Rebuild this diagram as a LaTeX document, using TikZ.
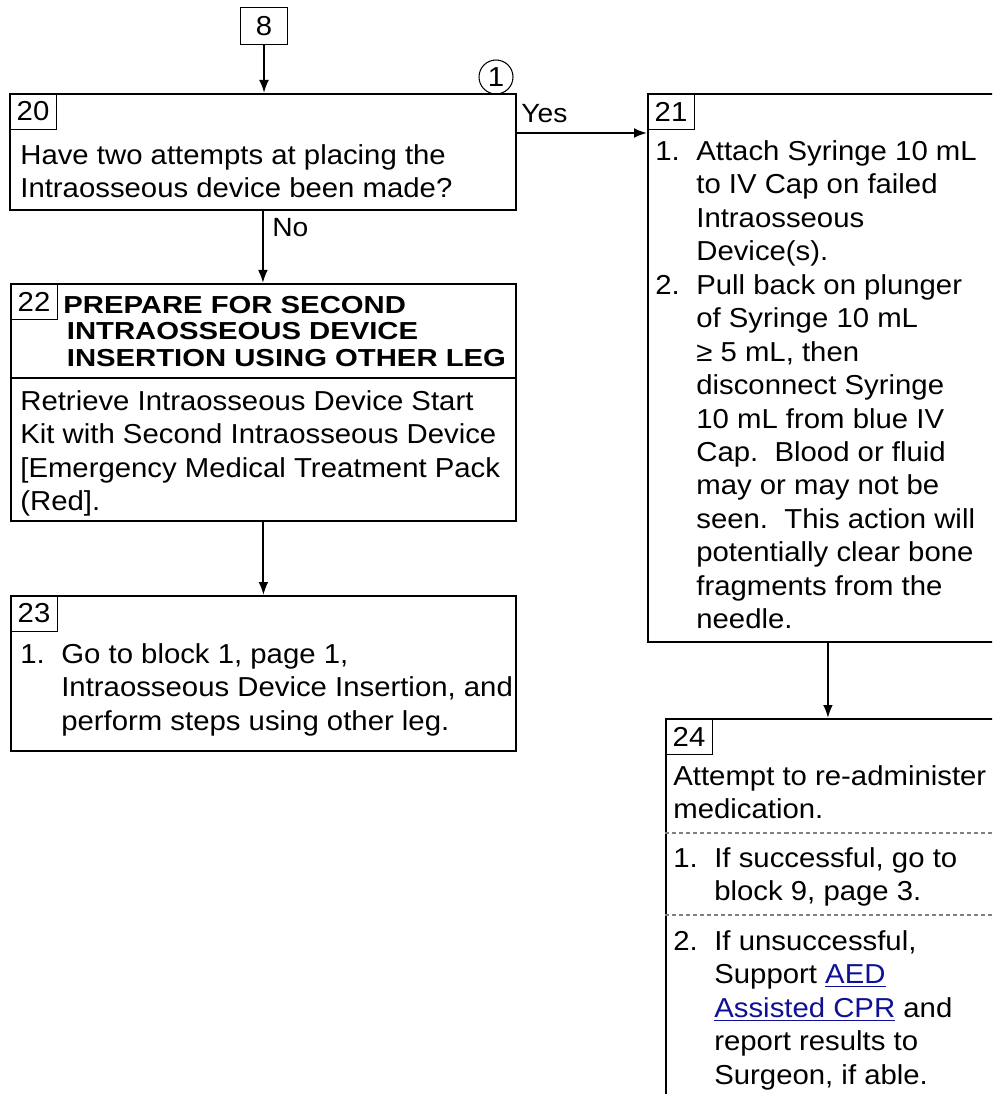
\documentclass[tikz,border=0pt]{standalone}
\usepackage{fontspec}
\setmainfont[FakeStretch=1.07]{Liberation Sans}
\newfontfamily\headfamily[FakeStretch=1.19]{Liberation Sans}
\usetikzlibrary{arrows.meta,calc}

\definecolor{linkblue}{RGB}{16,16,150}
\newcommand{\bodyfont}{\fontsize{15.6}{19.05}\selectfont}
\newcommand{\headfont}{\headfamily\fontsize{14}{15}\selectfont\bfseries}
\newcommand{\tagfont}{\fontsize{15}{17}\selectfont}
\newcommand{\itm}[1]{\makebox[0.82cm][l]{#1}}
\newcommand{\ind}{\hspace*{0.82cm}}
\newcommand{\lnk}[1]{\textcolor{linkblue}{\underline{#1}}}

\tikzset{
  blockbox/.style={draw, line width=1.1pt, anchor=north west, inner sep=0pt},
  numbox/.style={draw, line width=0.6pt, anchor=north west, inner sep=0pt,
    minimum width=0.94cm, minimum height=0.72cm, font=\bodyfont},
  txt/.style={anchor=north west, inner sep=0pt, align=left, font=\bodyfont},
  tag/.style={anchor=base west, inner sep=0pt, font=\tagfont},
  flow/.style={line width=1.1pt, -{Latex[length=7.4pt,width=5.6pt]}},
  divider/.style={gray, line width=0.6pt, dash pattern=on 2.3pt off 1.7pt},
}

\begin{document}
\begin{tikzpicture}[x=0.02cm, y=-0.02cm]
    \useasboundingbox (0,0) rectangle (992,1094);
    \clip (0,0) rectangle (992,1094);

    \node[numbox, minimum height=0.74cm] (b8) at (240,7) {8};

    \node[blockbox, minimum width=10.12cm, minimum height=2.32cm] (b20) at (9,93) {};
    \node[blockbox, minimum width=7.2cm, minimum height=10.96cm] (b21) at (647,93) {};
    \node[blockbox, minimum width=10.1cm, minimum height=4.74cm] (b22) at (10,283) {};
    \node[blockbox, minimum width=10.1cm, minimum height=3.1cm] (b23) at (10,595) {};
    \node[blockbox, minimum width=7.2cm, minimum height=8.4cm] (b24) at (665,718) {};

    \node[numbox] (n20) at (b20.north west) {20};
    \node[numbox] (n21) at (b21.north west) {21};
    \node[numbox] (n22) at (b22.north west) {22};
    \node[numbox] (n23) at (b23.north west) {23};
    \node[numbox] (n24) at (b24.north west) {24};

    \node[draw, circle, line width=0.6pt, minimum size=0.68cm, inner sep=0pt,
      font=\bodyfont] (c1) at (496,77) {1};

    \draw[line width=1.1pt] ($(b22.north west)+(0,95)$) -- ($(b22.north east)+(0,95)$);
    \draw[divider] ($(b24.north west)+(0,115)$) -- ($(b24.north east)+(0,115)$);
    \draw[divider] ($(b24.north west)+(0,197)$) -- ($(b24.north east)+(0,197)$);

    \node[txt] (t20) at (20,140.5) {\strut Have two attempts at placing the\\
      Intraosseous device been made?};
    \node[txt] (t21) at (655,136.5) {\strut\itm{1.}Attach Syringe 10 mL\\
      \ind to IV Cap on failed\\
      \ind Intraosseous\\
      \ind Device(s).\\
      \itm{2.}Pull back on plunger\\
      \ind of Syringe 10 mL\\
      \ind ≥ 5 mL, then\\
      \ind disconnect Syringe\\
      \ind 10 mL from blue IV\\
      \ind Cap.\ \ Blood or fluid\\
      \ind may or may not be\\
      \ind seen.\ \ This action will\\
      \ind potentially clear bone\\
      \ind fragments from the\\
      \ind needle.};
    \node[txt, font=\headfont] (h22) at (63,294.7) {\strut PREPARE FOR SECOND\\
      \hspace*{2pt}INTRAOSSEOUS DEVICE\\
      \hspace*{2pt}INSERTION USING OTHER LEG};
    \node[txt] (t22) at (20,386.5) {\strut Retrieve Intraosseous Device Start\\
      Kit with Second Intraosseous Device\\
      {[}Emergency Medical Treatment Pack\\
      (Red].};
    \node[txt] (t23) at (20,639.5) {\strut\itm{1.}Go to block 1, page 1,\\
      \ind Intraosseous Device Insertion, and\\
      \ind perform steps using other leg.};
    \node[txt] (t24a) at (673,761.5) {\strut Attempt to re-administer\\
      medication.};
    \node[txt] (t24b) at (673,843.5) {\strut\itm{1.}If successful, go to\\
      \ind block 9, page 3.};
    \node[txt] (t24c) at (673,926.5) {\strut\itm{2.}If unsuccessful,\\
      \ind Support \lnk{AED}\\
      \ind \lnk{Assisted CPR} and\\
      \ind report results to\\
      \ind Surgeon, if able.};

    \draw[flow] (b8.south) -- (b8.south |- b20.north);
    \draw[flow] ($(b20.north east)+(0,40)$) -- ($(b21.north west)+(0,40)$);
    \draw[flow] (b20.south) -- (b20.south |- b22.north);
    \draw[flow] (b22.south) -- (b22.south |- b23.north);
    \draw[flow] (b21.south) -- (b21.south |- b24.north);

    \node[tag] (yes) at (521,123) {Yes};
    \node[tag] (no) at (272,237) {No};
\end{tikzpicture}
\end{document}
